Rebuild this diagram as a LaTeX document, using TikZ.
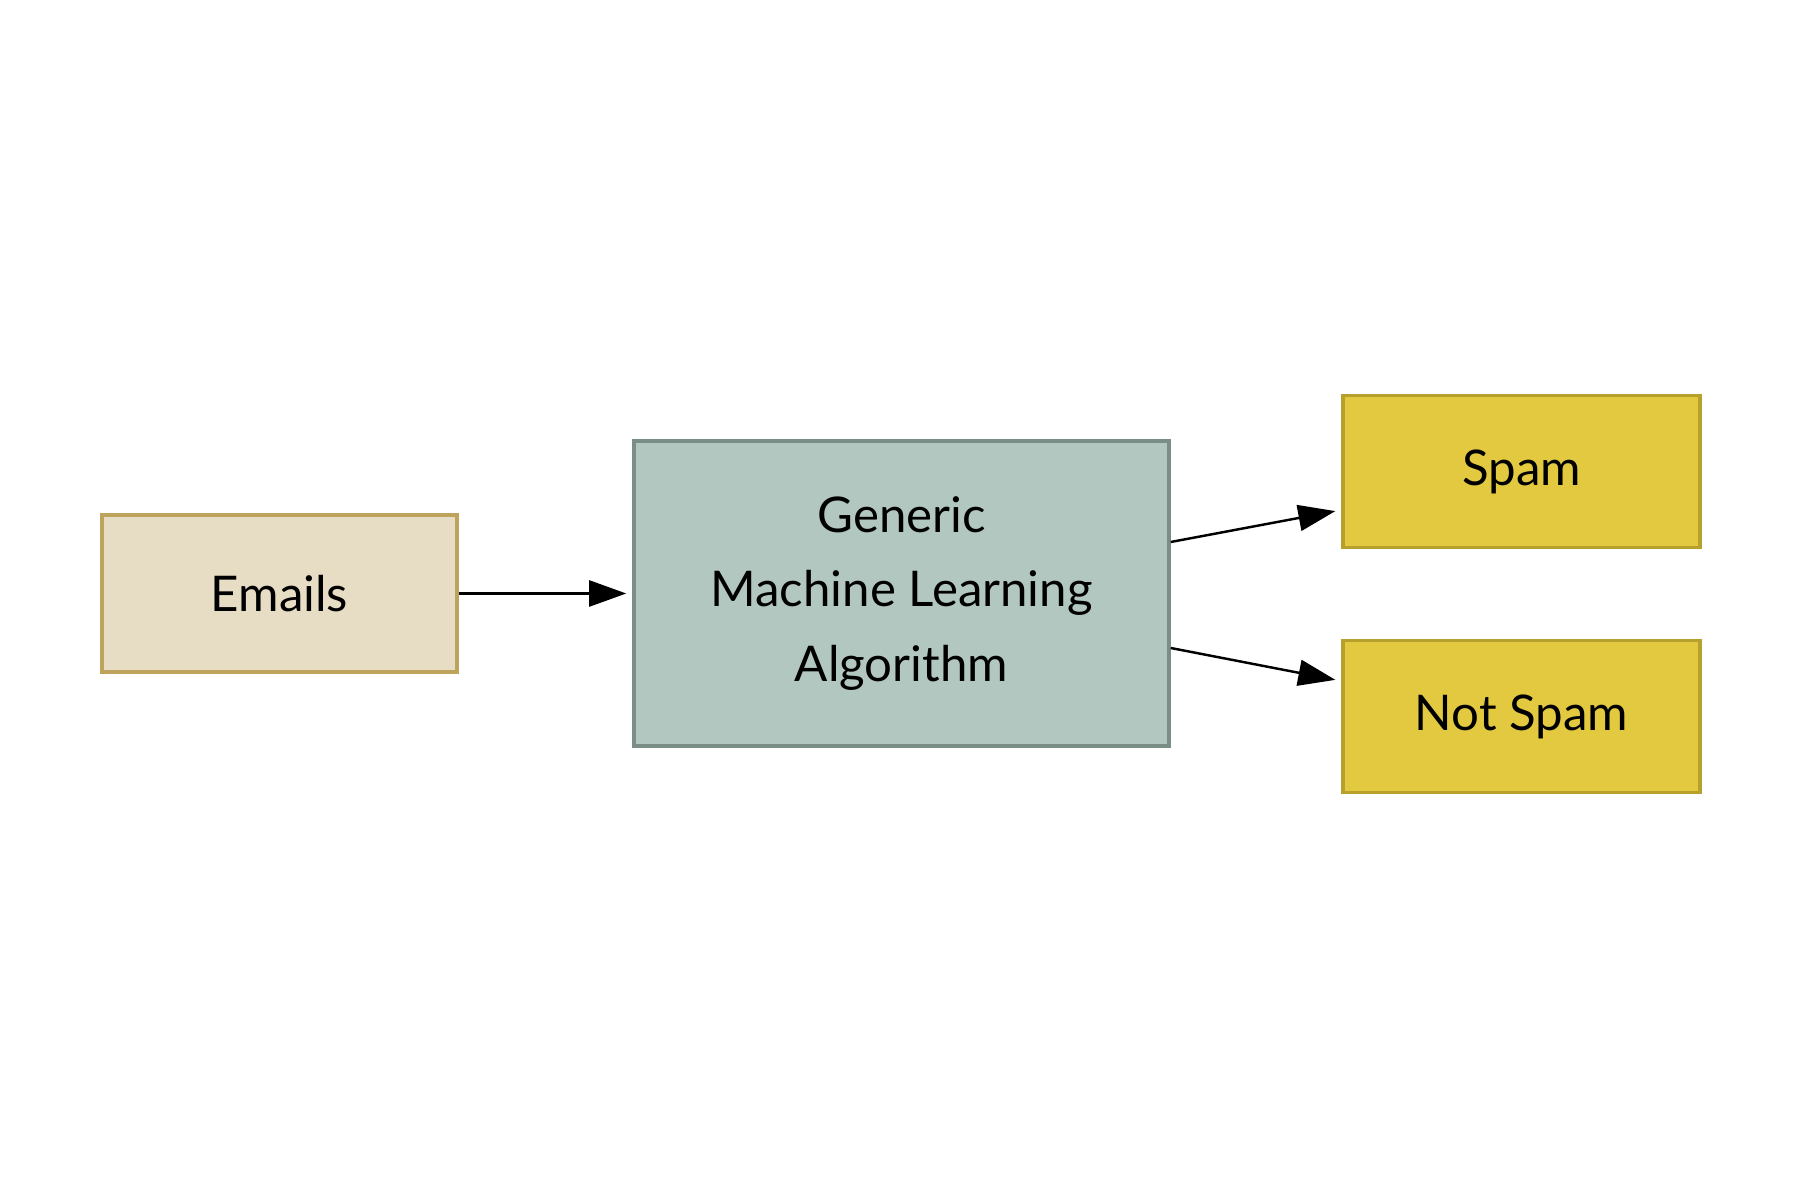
\documentclass[tikz,border=0pt]{standalone}
\usepackage{fontspec}
\setmainfont{Lato}
\usepackage{xcolor}
\usepackage{tikz}
\usetikzlibrary{arrows.meta}
\definecolor{mailfill}{RGB}{231,221,197}
\definecolor{maildraw}{RGB}{190,163,92}
\definecolor{algofill}{RGB}{178,199,191}
\definecolor{algodraw}{RGB}{122,142,134}
\definecolor{classfill}{RGB}{226,201,64}
\definecolor{classdraw}{RGB}{184,160,44}
\tikzstyle{mailbox}  = [rectangle, minimum width=3.55cm, minimum height=1.57cm, text centered, line width=1pt, draw=maildraw, fill=mailfill]
\tikzstyle{algobox}  = [rectangle, minimum width=5.35cm, minimum height=3.05cm, text centered, align=center, line width=1pt, draw=algodraw, fill=algofill]
\tikzstyle{classbox} = [rectangle, minimum width=3.57cm, minimum height=1.52cm, text centered, line width=1pt, draw=classdraw, fill=classfill]
\tikzstyle{arrow}    = [line width=0.7pt, -{Triangle[length=0.37cm, width=0.26cm]}, shorten >=0.06cm]

\begin{document}
\begin{tikzpicture}[node distance=6.2cm, font=\fontsize{14}{21.3}\selectfont]
    \useasboundingbox (0,0) rectangle (18,12);

    \node (emails)  [mailbox] at (2.795,6.065) {Emails};
    \node (mla)     [algobox, right of=emails, xshift=0.02cm] {Generic\\Machine Learning\\Algorithm};
    \node (spam)    [classbox, right of=mla, yshift=1.22cm] {Spam};
    \node (notspam) [classbox, right of=mla, yshift=-1.23cm] {Not Spam};

    \draw [arrow] (emails) -- (mla);
    \draw [arrow] ([yshift=0.515cm]mla.east)  -- ([yshift=-0.385cm]spam.west);
    \draw [arrow] ([yshift=-0.545cm]mla.east) -- ([yshift=0.355cm]notspam.west);

  \end{tikzpicture}
\end{document}
